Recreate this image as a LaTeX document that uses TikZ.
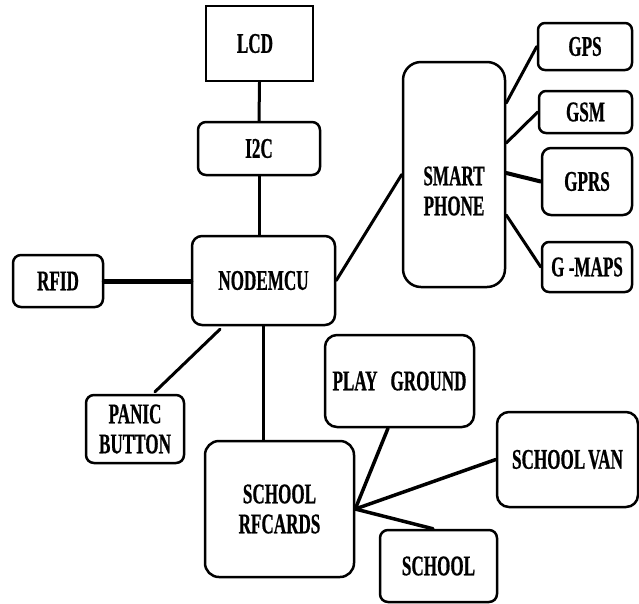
\documentclass[tikz,border=0pt]{standalone}
\usepackage{fontspec}
\setmainfont{Liberation Serif}[FakeStretch=0.6,BoldFeatures={FakeBold=0.6}]
\usetikzlibrary{calc}
\begin{document}
\begin{tikzpicture}[x=1pt,y=-1pt,
  box/.style={draw=black,line width=2.5pt,fill=white,inner sep=0pt,align=center,
    font=\fontsize{28.5}{30}\selectfont\bfseries},
  rbox/.style={box,rounded corners=#1},
  rbox/.default=8pt,
  lbl/.style={inner sep=0pt,align=center,font=\fontsize{28.5}{30}\selectfont\bfseries},
  wire/.style={line width=3pt,line cap=round}]
\useasboundingbox (0,0) rectangle (639,603);
% boxes
\node[box,minimum width=107pt,minimum height=75pt] (lcd) at (259.5,43.5) {\hspace*{-9pt}LCD};
\node[rbox,minimum width=122pt,minimum height=53pt] (i2c) at (259,148.5) {I2C};
\node[rbox=10pt,minimum width=143pt,minimum height=89pt] (mcu) at (263.5,280.5) {NODEMCU};
\node[rbox,minimum width=90pt,minimum height=52pt] (rfid) at (58,281) {RFID};
\node[rbox=18pt,minimum width=102pt,minimum height=225pt] (sp) at (454,174.5) {};
\node[lbl] (sptxt) at (454,191) {SMART\\PHONE};
\node[rbox=7pt,minimum width=94pt,minimum height=47pt] (gps) at (585,46.5) {GPS};
\node[rbox=7pt,minimum width=93pt,minimum height=42pt] (gsm) at (585.5,112) {GSM};
\node[rbox=9pt,minimum width=90pt,minimum height=67pt] (gprs) at (587,181.5) {GPRS};
\node[rbox=7pt,minimum width=90pt,minimum height=50pt] (gmaps) at (587,267) {G -MAPS};
\node[rbox,minimum width=98pt,minimum height=68pt] (panic) at (135,429) {PANIC\\BUTTON};
\node[rbox=14pt,minimum width=149pt,minimum height=136pt] (rf) at (279.5,509) {SCHOOL\\RFCARDS};
\node[rbox=12pt,minimum width=149pt,minimum height=92pt] (play) at (399.5,381) {PLAY\hspace{13pt}GROUND};
\node[rbox=12pt,minimum width=141pt,minimum height=95pt] (van) at (567.5,459.5) {SCHOOL\hspace{0.1em}VAN};
\node[rbox,minimum width=117pt,minimum height=72pt] (school) at (438.5,566) {SCHOOL};
% connectors
\draw[wire] (lcd.south) -- (i2c.north);
\draw[wire] (i2c.south) -- (i2c.south |- mcu.north);
\draw[wire,line width=5pt] (rfid.east) -- (rfid.east -| mcu.west);
\draw[wire] (mcu.east) -- (sp.west);
\draw[wire] ([yshift=71.5pt]sp.east) -- (gps.west);
\draw[wire] ([yshift=31.5pt]sp.east) -- (gsm.west);
\draw[wire,line width=4pt] ([yshift=1.5pt]sp.east) -- (gprs.west);
\draw[wire] ([yshift=-40.5pt]sp.east) -- (gmaps.west);
\draw[wire] ([xshift=-43.5pt,yshift=-3pt]mcu.south) -- ([xshift=20pt,yshift=2pt]panic.north);
\draw[wire] (mcu.south) -- (mcu.south |- rf.north);
\draw[wire,line width=3.5pt] (rf.east) -- ([xshift=-11.5pt]play.south);
\draw[wire,line width=3.5pt] (rf.east) -- (van.west);
\draw[wire,line width=3.5pt] (rf.east) -- ([xshift=-5.5pt]school.north);
\end{tikzpicture}
\end{document}
